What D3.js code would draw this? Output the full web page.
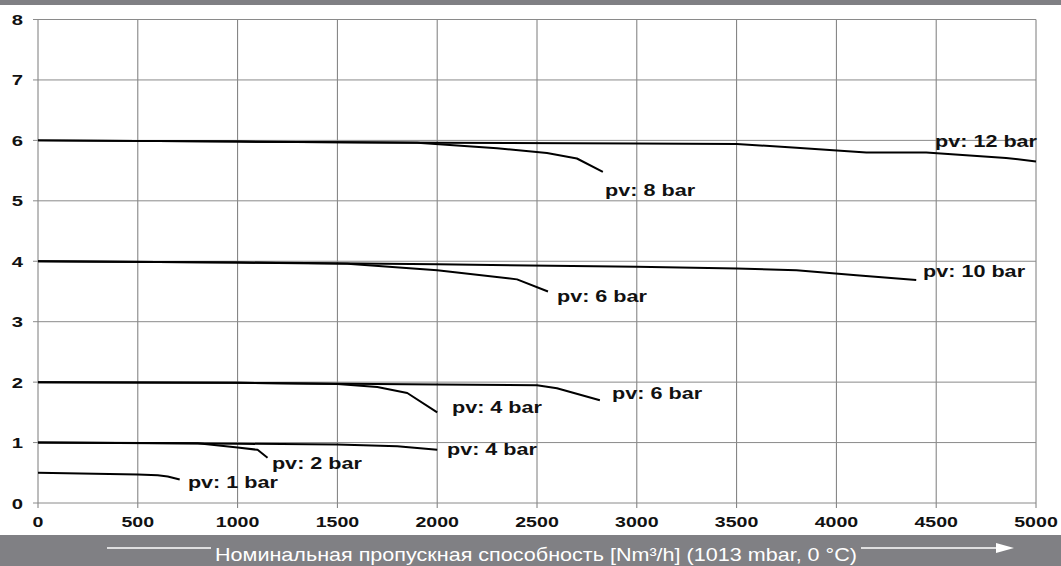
<!DOCTYPE html>
<html>
<head>
<meta charset="utf-8">
<script src="https://cdn.jsdelivr.net/npm/d3@7"></script>
<style>
  html, body { margin: 0; padding: 0; background: #fff; }
  svg { display: block; }
</style>
</head>
<body>
<div id="chart"></div>
<script>
const width = 1061;
const height = 566;

// tick values
const xTicks = [0, 500, 1000, 1500, 2000, 2500, 3000, 3500, 4000, 4500, 5000];
const yTicks = [0, 1, 2, 3, 4, 5, 6, 7, 8];

// curves: [flow Nm3/h, outlet pressure bar]
const pv12 = [[0, 6.0], [1000, 5.98], [2000, 5.96], [3000, 5.95], [3500, 5.94], [3800, 5.88], [4150, 5.80], [4450, 5.80], [4850, 5.71], [5000, 5.65]];
const pv8 = [[0, 6.0], [1000, 5.98], [1900, 5.96], [2300, 5.87], [2550, 5.79], [2700, 5.70], [2830, 5.48]];
const pv10 = [[0, 4.0], [1000, 3.98], [2000, 3.95], [3000, 3.91], [3500, 3.88], [3800, 3.85], [4100, 3.77], [4400, 3.69]];
const pv6a = [[0, 4.0], [1000, 3.98], [1550, 3.96], [2000, 3.85], [2400, 3.70], [2555, 3.50]];
const pv6b = [[0, 2.0], [1000, 1.99], [2000, 1.96], [2500, 1.95], [2600, 1.90], [2815, 1.70]];
const pv4a = [[0, 2.0], [1000, 1.99], [1500, 1.97], [1700, 1.92], [1850, 1.82], [2000, 1.50]];
const pv4b = [[0, 1.0], [1000, 0.98], [1500, 0.97], [1800, 0.94], [2000, 0.88]];
const pv2 = [[0, 1.0], [800, 0.99], [1000, 0.92], [1100, 0.88], [1150, 0.75]];
const pv1 = [[0, 0.5], [500, 0.47], [600, 0.46], [650, 0.44], [710, 0.39]];

const curves = [pv12, pv8, pv10, pv6a, pv6b, pv4a, pv4b, pv2, pv1];
const curveLabels = ['pv: 12 bar', 'pv: 8 bar', 'pv: 10 bar', 'pv: 6 bar', 'pv: 6 bar', 'pv: 4 bar', 'pv: 4 bar', 'pv: 2 bar', 'pv: 1 bar'];
// where each label sits, in chart units
const labelAt = [[4494, 5.89], [2841, 5.08], [4434, 3.74], [2600, 3.33], [2876, 1.72], [2074, 1.49], [2049, 0.79], [1172, 0.57], [751, 0.25]];

const axisTitle = 'Номинальная пропускная способность [Nm³/h] (1013 mbar, 0 °C)';

const svg = d3.select('#chart').append('svg')
  .attr('width', width)
  .attr('height', height);

const xScale = d3.scaleLinear().domain([0, 5000]).range([38, 1036]);
const yScale = d3.scaleLinear().domain([0, 8]).range([503, 19.5]);

const grey = '#808084';
const stretch = 1.35; // text in the picture is drawn wide

// top and bottom bands
svg.append('rect').attr('x', 0).attr('y', 0).attr('width', width).attr('height', 5).attr('fill', grey);
svg.append('rect').attr('x', 0).attr('y', 535).attr('width', width).attr('height', 31).attr('fill', grey);

// grid
svg.append('g').selectAll('line').data(xTicks).enter().append('line')
  .attr('x1', d => xScale(d)).attr('x2', d => xScale(d))
  .attr('y1', yScale(8)).attr('y2', yScale(0) + 5)
  .attr('stroke', '#7a7a7a').attr('stroke-width', 1);

svg.append('g').selectAll('line').data(yTicks).enter().append('line')
  .attr('x1', xScale(0) - 5).attr('x2', xScale(5000))
  .attr('y1', d => yScale(d)).attr('y2', d => yScale(d))
  .attr('stroke', '#8a8a8a').attr('stroke-width', 1);

// tick labels
svg.append('g').selectAll('text').data(yTicks).enter().append('text')
  .attr('transform', d => `translate(23,${yScale(d) + 5.5}) scale(${stretch},1)`)
  .attr('text-anchor', 'end')
  .attr('font-family', 'Liberation Sans, Arial, sans-serif')
  .attr('font-weight', 'bold')
  .attr('font-size', 15)
  .attr('fill', '#111')
  .text(d => d);

svg.append('g').selectAll('text').data(xTicks).enter().append('text')
  .attr('transform', d => `translate(${xScale(d)},527) scale(${stretch},1)`)
  .attr('text-anchor', 'middle')
  .attr('font-family', 'Liberation Sans, Arial, sans-serif')
  .attr('font-weight', 'bold')
  .attr('font-size', 14.5)
  .attr('fill', '#111')
  .text(d => d);

// curves
const line = d3.line()
  .x(d => xScale(d[0]))
  .y(d => yScale(d[1]));

svg.append('g').selectAll('path').data(curves).enter().append('path')
  .attr('d', line)
  .attr('fill', 'none')
  .attr('stroke', '#000')
  .attr('stroke-width', 2)
  .attr('stroke-linejoin', 'round');

// curve labels
svg.append('g').selectAll('text').data(curveLabels).enter().append('text')
  .attr('transform', (d, i) => `translate(${xScale(labelAt[i][0])},${yScale(labelAt[i][1])}) scale(${stretch},1)`)
  .attr('font-family', 'Liberation Sans, Arial, sans-serif')
  .attr('font-weight', 'bold')
  .attr('font-size', 16)
  .attr('fill', '#111')
  .text(d => d);

// axis title with arrow
const title = svg.append('text')
  .attr('font-family', 'Liberation Sans, Arial, sans-serif')
  .attr('font-size', 18)
  .attr('fill', '#fff')
  .text(axisTitle);
const titleW = title.node().getComputedTextLength();
const sx = (857 - 215) / titleW;
title.attr('transform', `translate(215,561) scale(${sx},1)`);

svg.append('line').attr('x1', 107).attr('x2', 211).attr('y1', 548).attr('y2', 548)
  .attr('stroke', '#fff').attr('stroke-width', 1.5);
svg.append('line').attr('x1', 861).attr('x2', 1000).attr('y1', 548).attr('y2', 548)
  .attr('stroke', '#fff').attr('stroke-width', 1.5);
svg.append('path').attr('d', 'M996,543 L1014,548 L996,553 Z').attr('fill', '#fff');
</script>
</body>
</html>
